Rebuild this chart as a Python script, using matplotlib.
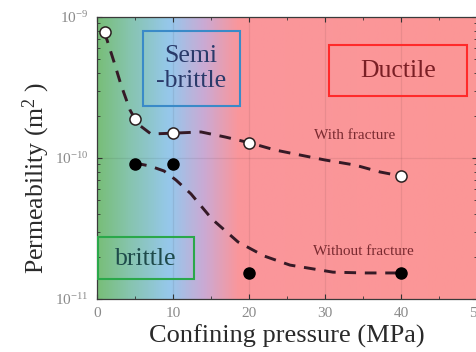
import numpy as np
import matplotlib
matplotlib.use("Agg")
import matplotlib.pyplot as plt
from matplotlib.patches import Rectangle
from matplotlib.colors import LinearSegmentedColormap
from matplotlib.ticker import FixedLocator, LogLocator, NullFormatter, FuncFormatter

plt.rcParams['font.family'] = ['Liberation Serif', 'DejaVu Serif']
plt.rcParams['mathtext.fontset'] = 'custom'
plt.rcParams['mathtext.rm'] = 'Liberation Serif'
plt.rcParams['mathtext.it'] = 'Liberation Serif:italic'

# Data
with_x = [1, 5, 10, 20, 40]
with_y = [7.8e-10, 1.89e-10, 1.50e-10, 1.28e-10, 7.45e-11]
without_x = [5, 10, 20, 40]
without_y = [9.06e-11, 9.06e-11, 1.53e-11, 1.53e-11]

# Trend (smoothed dashed curves)
with_trend_x = [0.92, 1.32, 2.24, 3.16, 4.34, 5.39, 7.11, 10.0, 13.68, 16.84, 20.13, 23.42, 26.71, 30.0, 33.95, 37.24, 40.0]
with_trend_y = [7.83e-10, 6.87e-10, 4.80e-10, 3.30e-10, 2.19e-10, 1.74e-10, 1.48e-10, 1.50e-10, 1.53e-10,
                1.41e-10, 1.28e-10, 1.14e-10, 1.05e-10, 9.68e-11, 8.91e-11, 7.96e-11, 7.45e-11]
without_trend_x = [5.0, 5.66, 6.97, 8.82, 10.39, 12.37, 15.13, 18.55, 21.97, 25.39, 31.05, 35.26, 39.87]
without_trend_y = [9.06e-11, 9.06e-11, 8.77e-11, 8.09e-11, 6.98e-11, 5.56e-11, 3.69e-11, 2.54e-11, 2.02e-11,
                   1.74e-11, 1.55e-11, 1.53e-11, 1.53e-11]

x_ticks = [0, 10, 20, 30, 40, 50]
y_ticks = [1e-11, 1e-10, 1e-9]

# Background gradient stops (x in data units)
grad_pos = [0, 4, 9.5, 14, 18.5, 50]
grad_cols = [(120, 190, 120), (134, 196, 172), (150, 200, 236), (202, 170, 212), (250, 150, 155), (252, 150, 150)]

fig = plt.figure(figsize=(4.77, 3.52), dpi=100)
ax = fig.add_axes([97/477, 1-299/352, 380/477, 282/352])

cmap = LinearSegmentedColormap.from_list(
    'bg', [(p/50, tuple(c/255 for c in col)) for p, col in zip(grad_pos, grad_cols)])
grad = np.linspace(0, 1, 500).reshape(1, -1)
ax.imshow(grad, cmap=cmap, aspect='auto', extent=[0, 1, 0, 1], transform=ax.transAxes, zorder=0)

ax.set_xlim(0, 50)
ax.set_yscale('log')
ax.set_ylim(1e-11, 1e-9)

# grid
for xv in [10, 20, 30, 40]:
    ax.axvline(xv, color='k', alpha=0.07, lw=0.9, zorder=1)
ax.axhline(1e-10, color='k', alpha=0.07, lw=0.9, zorder=1)

line_col = '#351a26'
ax.plot(with_trend_x, with_trend_y, color=line_col, lw=2.1, dashes=(4, 3), zorder=2)
ax.plot(without_trend_x, without_trend_y, color=line_col, lw=2.1, dashes=(4, 3), zorder=2)
ax.plot(with_x, with_y, 'o', ms=8, mfc='white', mec='#2a2020', mew=1.1, zorder=3, clip_on=False)
ax.plot(without_x, without_y, 'o', ms=8, mfc='black', mec='black', zorder=3)

# Region boxes
boxes = [
    ((0.121, 0.684), 0.255, 0.266, '#3a8ac8'),
    ((0.611, 0.720), 0.363, 0.181, '#ff2a2a'),
    ((0.003, 0.071), 0.252, 0.149, '#2aa84a'),
]
for (x0, y0), w, h, ec in boxes:
    ax.add_patch(Rectangle((x0, y0), w, h, transform=ax.transAxes, fill=False,
                           ec=ec, lw=1.5, zorder=4))

ax.text(0.247, 0.817, 'Semi\n-brittle', transform=ax.transAxes, ha='center', va='center',
        fontsize=18.5, color='#2a3a6a', linespacing=1.15, zorder=5)
ax.text(0.792, 0.810, 'Ductile', transform=ax.transAxes, ha='center', va='center',
        fontsize=18.5, color='#7a1f25', zorder=5)
ax.text(0.129, 0.142, 'brittle', transform=ax.transAxes, ha='center', va='center',
        fontsize=18.5, color='#1e4a4a', zorder=5)
ax.text(0.679, 0.580, 'With fracture', transform=ax.transAxes, ha='center', va='center',
        fontsize=11, color='#7a2a30', zorder=5)
ax.text(0.700, 0.168, 'Without fracture', transform=ax.transAxes, ha='center', va='center',
        fontsize=11, color='#7a2a30', zorder=5)

# ticks
ax.xaxis.set_major_locator(FixedLocator(x_ticks))
ax.xaxis.set_minor_locator(FixedLocator([5, 15, 25, 35, 45]))
ax.yaxis.set_major_locator(FixedLocator(y_ticks))
ax.yaxis.set_minor_locator(LogLocator(base=10, subs=np.arange(2, 10)))
ax.yaxis.set_minor_formatter(NullFormatter())

def yfmt(v, pos):
    e = int(round(np.log10(v)))
    return r'$\mathregular{10^{%d}}$' % e
ax.yaxis.set_major_formatter(FuncFormatter(yfmt))

ax.tick_params(which='both', direction='in', top=True, right=True, colors='#333333',
               labelcolor='#8a8a8a', labelsize=11)
ax.tick_params(which='major', length=3.5, width=0.8)
ax.tick_params(which='minor', length=2, width=0.6)
ax.tick_params(axis='x', pad=6)
ax.tick_params(axis='y', pad=6)

for s in ax.spines.values():
    s.set_color('#3a3a3a')
    s.set_linewidth(0.9)

ax.set_xlabel('Confining pressure (MPa)', fontsize=19, color='#2a2a2a', labelpad=3)
ax.set_ylabel(r'Permeability (m$^{2}$ )', fontsize=18.5, color='#2a2a2a')
ax.yaxis.set_label_coords(-0.118, 0.43)

fig.savefig('out.png', dpi=100)
